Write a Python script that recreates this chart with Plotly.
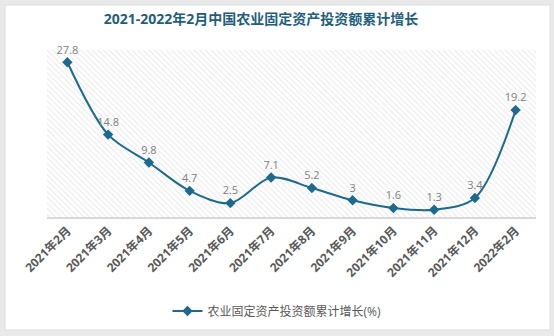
import plotly.graph_objects as go

# Monthly cumulative growth of agricultural fixed-asset investment (%)
months = ["2021年2月", "2021年3月", "2021年4月", "2021年5月", "2021年6月", "2021年7月",
          "2021年8月", "2021年9月", "2021年10月", "2021年11月", "2021年12月", "2022年2月"]
growth = [27.8, 14.8, 9.8, 4.7, 2.5, 7.1, 5.2, 3, 1.6, 1.3, 3.4, 19.2]
labels = ["27.8", "14.8", "9.8", "4.7", "2.5", "7.1", "5.2", "3", "1.6", "1.3", "3.4", "19.2"]

series_name = "农业固定资产投资额累计增长(%)"
title_text = "2021-2022年2月中国农业固定资产投资额累计增长"

LINE = "#1c6a8e"
FONT = "Open Sans, Noto Sans CJK SC"

fig = go.Figure()

# hatched plot background on the base axis pair
fig.add_trace(go.Scatter(
    x=[0, 1, 1, 0, 0], y=[0, 0, 1, 1, 0],
    mode="lines", line=dict(width=0),
    fill="toself", fillcolor="white",
    fillpattern=dict(shape="\\", fgcolor="#dadada", bgcolor="white", size=4, solidity=0.3),
    hoverinfo="skip", showlegend=False,
))

# data line on the overlaying axis pair
fig.add_trace(go.Scatter(
    x=months, y=growth, name=series_name, xaxis="x2", yaxis="y2",
    mode="lines+markers+text",
    line=dict(color=LINE, width=2, shape="spline", smoothing=0.9),
    marker=dict(symbol="diamond", size=8, color=LINE),
    text=labels, textposition="top center",
    textfont=dict(family=FONT, size=11, color="#808080"),
    cliponaxis=False,
))

fig.update_layout(
    width=554, height=336,
    margin=dict(l=47, r=18, t=50, b=119, autoexpand=False),
    paper_bgcolor="#e9e9e9",
    plot_bgcolor="rgba(0,0,0,0)",
    title=dict(text="<b>" + title_text + "</b>", x=261 / 554, xanchor="center",
               y=1 - 19 / 336, yanchor="middle", yref="container",
               font=dict(family=FONT, size=14, color="#1f5f7e")),
    xaxis=dict(range=[0, 1], visible=False, fixedrange=True, automargin=False),
    yaxis=dict(range=[0, 1], visible=False, fixedrange=True, automargin=False),
    xaxis2=dict(
        type="category", overlaying="x", anchor="y2", automargin=False,
        range=[-0.5, len(months) - 0.5],
        tickson="boundaries", showgrid=True, gridcolor="#e3e3e3", gridwidth=1,
        showline=True, linecolor="#d9d9d9", linewidth=2, ticks="",
        tickangle=-45, tickfont=dict(family=FONT, size=12, color="#595959", weight="bold"),
    ),
    yaxis2=dict(range=[0, 30], overlaying="y", anchor="x2", visible=False,
                showgrid=False, zeroline=False, automargin=False),
    showlegend=True,
    legend=dict(orientation="h", x=0.5, xanchor="center", xref="container",
                y=1 - 311 / 336, yanchor="middle", yref="container",
                font=dict(family=FONT, size=12, color="#595959"),
                bgcolor="rgba(0,0,0,0)"),
    shapes=[dict(type="rect", xref="paper", yref="paper", layer="below",
                 x0=-42 / 489, x1=1 + 14 / 489, y0=-113 / 167, y1=1 + 45 / 167,
                 fillcolor="white", line=dict(color="#dedede", width=1))],
)

fig.write_html("out.html")
